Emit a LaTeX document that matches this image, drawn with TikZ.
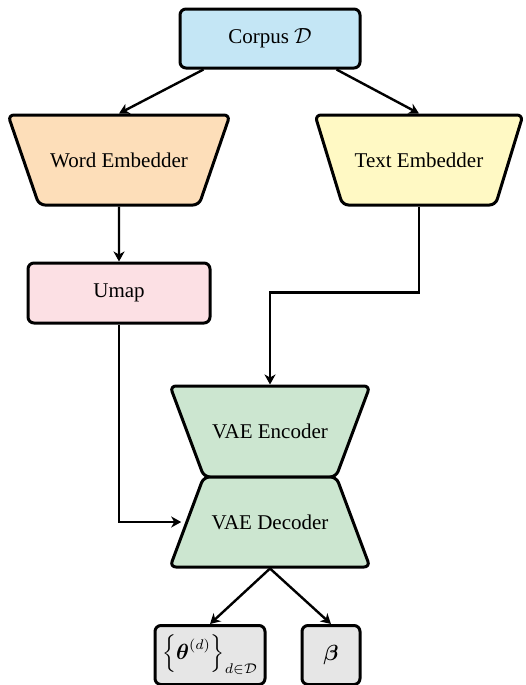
\documentclass[tikz,border=0pt]{standalone}
\usepackage{amsmath}
\usepackage{amsfonts}
\usepackage{fontspec}
\setmainfont{Liberation Serif}
\usepackage{tikz}
\usetikzlibrary{shapes.geometric,arrows.meta}

\definecolor{corpusblue}{HTML}{C4E6F5}
\definecolor{wordorange}{HTML}{FDDEB9}
\definecolor{textyellow}{HTML}{FFF9C4}
\definecolor{umappink}{HTML}{FCE0E4}
\definecolor{vaegreen}{HTML}{CCE6D0}
\definecolor{outgray}{HTML}{E6E6E6}

\tikzset{
	block/.style={draw, line width=1.5pt, rounded corners=3pt, inner sep=0pt},
	trap/.style={block, trapezium, trapezium stretches body, text height=8.5pt, text depth=1.5pt, inner ysep=17.5pt},
	arr/.style={very thick, -{Stealth[length=5pt, width=5.5pt, inset=1.5pt]}},
}

\begin{document}
\begin{tikzpicture}[x=0.5pt, y=-0.5pt]
	\fontsize{10.5}{12.6}\selectfont
	\useasboundingbox (0,0) rectangle (525,685);
	% top
	\node [block, fill=corpusblue, minimum width=90pt, minimum height=29.5pt] (corpus) at (270,38.5) {Corpus $\mathcal{D}$};
	% embedders
	\node [trap, fill=wordorange, shape border rotate=180, trapezium angle=71, minimum width=111pt] (word) at (119,160) {Word Embedder};
	\node [trap, fill=textyellow, shape border rotate=180, trapezium angle=73, minimum width=104pt] (text) at (419,160) {Text Embedder};
	\node [block, fill=umappink, minimum width=91pt, minimum height=30pt] (umap) at (119,293) {Umap};
	% vae
	\node [trap, fill=vaegreen, shape border rotate=180, trapezium angle=69.5, minimum width=100pt, inner ysep=17.75pt] (enc) at (270,431.5) {VAE Encoder};
	\node [trap, fill=vaegreen, trapezium angle=69.5, minimum width=100pt] (dec) at (270,522) {VAE Decoder};
	% outputs
	\node [block, fill=outgray, minimum width=55pt, minimum height=29.5pt] (theta) at (210,655) {$\left\{\boldsymbol{\theta}^{(d)}\right\}_{d\in\mathcal{D}}$};
	\node [block, fill=outgray, minimum width=29pt, minimum height=29.5pt] (beta) at (331,655) {$\boldsymbol{\beta}$};
	% arrows
	\draw [arr] (corpus.south west) ++(25,0) coordinate (cw) -- (word.north);
	\draw [arr] (corpus.south east) ++(-25,0) coordinate (ce) -- (text.north);
	\draw [arr] (word.south) -- (umap.north);
	\draw [arr] (text.south) -- ++(0,86) -| (enc.north);
	\draw [arr, shorten >=2pt] (umap.south) |- (dec.west);
	\draw [arr] (dec.south) -- (theta.north);
	\draw [arr] (dec.south) -- (beta.north);
\end{tikzpicture}
\end{document}
